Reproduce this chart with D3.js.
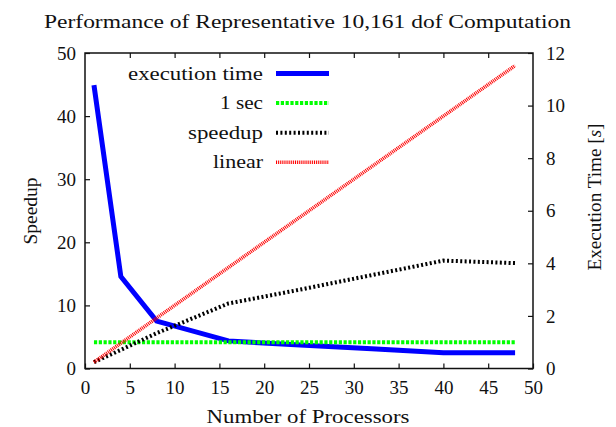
<!DOCTYPE html>
<html>
<head>
<meta charset="utf-8">
<script src="https://cdn.jsdelivr.net/npm/d3@7"></script>
</head>
<body style="margin:0">
<svg id="chart" width="616" height="427" font-family="Liberation Serif"></svg>
<script>
// ---- data ----
const procs = [1, 4, 8, 16, 24, 32, 40, 48];
const execTime = [10.78, 3.5, 1.8, 1.05, 0.89, 0.75, 0.6, 0.6];
const speedup = [1, 2.95, 5.6, 10.3, 12.5, 14.8, 17.1, 16.7];
const oneSecProcs = [1, 48];
const oneSec = [1, 1];
const linearProcs = [1, 48];
const linear = [1, 48];
const xTicks = [0, 5, 10, 15, 20, 25, 30, 35, 40, 45, 50];
const yTicks = [0, 10, 20, 30, 40, 50];
const y2Ticks = [0, 2, 4, 6, 8, 10, 12];
const legendLabels = ["execution time", "1 sec", "speedup", "linear"];

const svg = d3.select("#chart");
const L = 85, R = 533, T = 53, B = 368.5;

const x = d3.scaleLinear().domain([0, 50]).range([L, R]);
const y = d3.scaleLinear().domain([0, 50]).range([B, T]);
const y2 = d3.scaleLinear().domain([0, 12]).range([B, T]);

const styles = [
  { color: "#0000ff", width: 5, dash: null },
  { color: "#00ff00", width: 4, dash: "3.2,1.6" },
  { color: "#000000", width: 4, dash: "2,2.4" },
  { color: "#ff0000", width: 3.6, dash: "1,0.9" }
];

const fontSize = 19;
function txt(sel) {
  return sel.attr("font-size", fontSize).attr("font-family", "Liberation Serif")
    .style("font-family", "Liberation Serif").attr("fill", "#111");
}
function styleAxis(g) {
  g.attr("font-family", "Liberation Serif");
  g.select(".domain").remove();
  g.selectAll("line").attr("stroke", "#111").attr("stroke-width", 1.2);
  g.selectAll("text").call(txt);
}
svg.append("g").attr("transform", `translate(0,${B})`)
  .call(d3.axisBottom(x).tickValues(xTicks).tickSize(-5).tickPadding(12).tickFormat(d3.format("d")))
  .call(styleAxis);
svg.append("g").attr("transform", `translate(0,${T})`)
  .call(d3.axisTop(x).tickValues(xTicks.slice(1, -1)).tickSize(-5).tickFormat(""))
  .call(styleAxis);
svg.append("g").attr("transform", `translate(${L},0)`)
  .call(d3.axisLeft(y).tickValues(yTicks).tickSize(-5).tickPadding(9).tickFormat(d3.format("d")))
  .call(styleAxis);
svg.append("g").attr("transform", `translate(${R},0)`)
  .call(d3.axisRight(y2).tickValues(y2Ticks).tickSize(-5).tickPadding(13).tickFormat(d3.format("d")))
  .call(styleAxis);

// frame
svg.append("rect").attr("x", L).attr("y", T).attr("width", R - L).attr("height", B - T)
  .attr("fill", "none").attr("stroke", "#111").attr("stroke-width", 1.5);

// lines
const lineY2 = d3.line().x(d => x(d[0])).y(d => y2(d[1]));
const lineY = d3.line().x(d => x(d[0])).y(d => y(d[1]));
const series = [
  { xs: procs, ys: execTime, gen: lineY2 },
  { xs: oneSecProcs, ys: oneSec, gen: lineY2 },
  { xs: procs, ys: speedup, gen: lineY },
  { xs: linearProcs, ys: linear, gen: lineY }
];
series.forEach((s, i) => {
  const st = styles[i];
  const p = svg.append("path")
    .attr("d", s.gen(s.xs.map((v, j) => [v, s.ys[j]])))
    .attr("fill", "none").attr("stroke", st.color).attr("stroke-width", st.width)
    .attr("stroke-linejoin", "miter");
  if (st.dash) p.attr("stroke-dasharray", st.dash);
});

// legend
const legWidths = [135, 43, 75, 50];
legendLabels.forEach((lab, i) => {
  const cy = 73.5 + i * 29.6;
  svg.append("text").attr("x", 263).attr("y", cy + 6).attr("text-anchor", "end")
    .call(txt).attr("textLength", legWidths[i]).attr("lengthAdjust", "spacingAndGlyphs")
    .text(lab);
  const st = styles[i];
  const l = svg.append("line").attr("x1", 276).attr("x2", 329).attr("y1", cy).attr("y2", cy)
    .attr("stroke", st.color).attr("stroke-width", st.width);
  if (st.dash) l.attr("stroke-dasharray", st.dash);
});

// title
svg.append("text").attr("x", 307.5).attr("y", 28).attr("text-anchor", "middle")
  .call(txt).attr("textLength", 527).attr("lengthAdjust", "spacingAndGlyphs")
  .text("Performance of Representative 10,161 dof Computation");

// x axis title
svg.append("text").attr("x", 308).attr("y", 423).attr("text-anchor", "middle")
  .call(txt).attr("textLength", 203).attr("lengthAdjust", "spacingAndGlyphs")
  .text("Number of Processors");

// left y title
svg.append("text").attr("transform", "translate(37,211) rotate(-90)").attr("text-anchor", "middle")
  .call(txt).attr("textLength", 67).attr("lengthAdjust", "spacingAndGlyphs")
  .text("Speedup");

// right y title
const rt = svg.append("text").attr("transform", "translate(601,197) rotate(-90)").attr("text-anchor", "middle")
  .call(txt).attr("textLength", 147).attr("lengthAdjust", "spacingAndGlyphs");
rt.append("tspan").text("Execution Time [");
rt.append("tspan").attr("font-style", "italic").text("s");
rt.append("tspan").text("]");
</script>
</body>
</html>
